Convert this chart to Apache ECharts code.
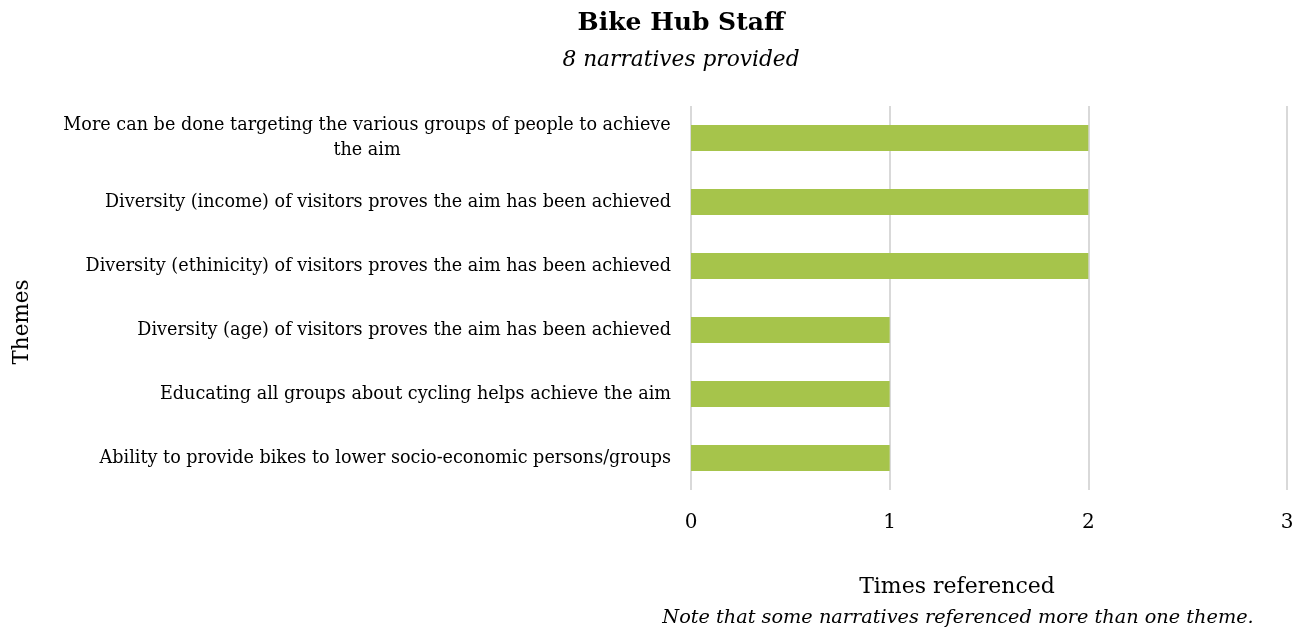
<!DOCTYPE html>
<html>
<head>
<meta charset="utf-8">
<script src="https://cdn.jsdelivr.net/npm/echarts@6/dist/echarts.min.js"></script>
<style>
  html, body { margin: 0; padding: 0; background: #fff; }
  #main { width: 1302px; height: 631px; }
</style>
</head>
<body>
<div id="main"></div>
<script>
// themes, top to bottom as shown
const themes = [
  "More can be done targeting the various groups of people to achieve\nthe aim",
  "Diversity (income) of visitors proves the aim has been achieved",
  "Diversity (ethinicity) of visitors proves the aim has been achieved",
  "Diversity (age) of visitors proves the aim has been achieved",
  "Educating all groups about cycling helps achieve the aim",
  "Ability to provide bikes to lower socio-economic persons/groups"
];
const timesReferenced = [2, 2, 2, 1, 1, 1];
const xTicks = [0, 1, 2, 3];

const FONT = "'DejaVu Serif', 'Liberation Serif', serif";
const labelSize = 17.6;

// measure the widest line so wrapped labels can centre their second line
const ctx = document.createElement("canvas").getContext("2d");
ctx.font = labelSize + "px " + FONT;
function textWidth(s) { return Math.ceil(ctx.measureText(s).width); }

const chart = echarts.init(document.getElementById("main"), null, { renderer: "canvas" });

const option = {
  animation: false,
  title: [
    {
      text: "Bike Hub Staff",
      left: 676, top: 6, textAlign: "center",
      textStyle: { fontFamily: FONT, fontSize: 25, fontWeight: "bold", color: "#000" }
    },
    {
      text: "8 narratives provided",
      left: 676, top: 44, textAlign: "center",
      textStyle: { fontFamily: FONT, fontSize: 21.7, fontStyle: "italic", fontWeight: "normal", color: "#000" }
    },
    {
      text: "Note that some narratives referenced more than one theme.",
      left: 953, top: 603, textAlign: "center",
      textStyle: { fontFamily: FONT, fontSize: 19.3, fontStyle: "italic", fontWeight: "normal", color: "#000" }
    }
  ],
  grid: { left: 691, right: 15, top: 106, bottom: 141, containLabel: false },
  xAxis: {
    type: "value",
    min: 0, max: 3, interval: 1,
    name: "Times referenced",
    nameLocation: "middle",
    nameGap: 86,
    nameTextStyle: { fontFamily: FONT, fontSize: 22, color: "#000", padding: [0, 64, 0, 0] },
    axisLine: { show: false },
    axisTick: { show: false },
    axisLabel: {
      fontFamily: FONT, fontSize: 20, color: "#000", margin: 23,
      formatter: (v) => (xTicks.indexOf(v) >= 0 ? String(v) : "")
    },
    splitLine: { show: true, lineStyle: { color: "#d9d9d9", width: 2 } }
  },
  yAxis: {
    type: "category",
    data: themes,
    inverse: true,
    name: "Themes",
    nameLocation: "middle",
    nameGap: 658,
    nameRotate: 90,
    nameTextStyle: { fontFamily: FONT, fontSize: 21.5, color: "#000", padding: [0, 48, 0, 0] },
    axisLine: { show: false },
    axisTick: { show: false },
    axisLabel: {
      margin: 20,
      fontFamily: FONT, fontSize: labelSize, color: "#000", lineHeight: 25,
      formatter: (v) => {
        const lines = v.split("\n");
        if (lines.length === 1) return v;
        return lines.map((l) => "{c|" + l + "}").join("\n");
      },
      rich: {
        c: {
          fontFamily: FONT, fontSize: labelSize, color: "#000", lineHeight: 25,
          align: "center",
          width: textWidth(themes[0].split("\n")[0])
        }
      }
    }
  },
  series: [
    {
      type: "bar",
      data: timesReferenced,
      barWidth: 26,
      itemStyle: { color: "#a6c44b" }
    }
  ]
};

chart.setOption(option);
</script>
</body>
</html>
